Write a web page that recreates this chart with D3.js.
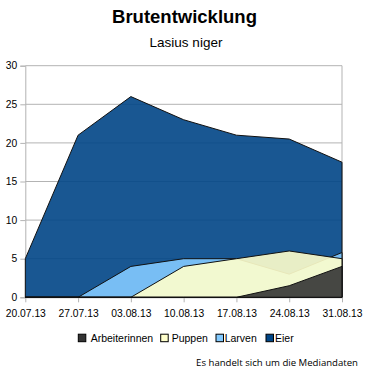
<!DOCTYPE html>
<html>
<head>
<meta charset="utf-8">
<script src="https://cdn.jsdelivr.net/npm/d3@7"></script>
<style>
  html, body { margin: 0; padding: 0; background: #fff; }
  svg { display: block; font-family: "Liberation Sans", Arial, sans-serif; }
</style>
</head>
<body>
<div id="chart"></div>
<script>
// Daten (Mediandaten)
const dates = ['20.07.13', '27.07.13', '03.08.13', '10.08.13', '17.08.13', '24.08.13', '31.08.13'];
const eier = [5, 21, 26, 23, 21, 20.5, 17.5];
const larven = [0, 0, 4, 5, 5, 3, 5.8];
const puppen = [0, 0, 0, 4, 5, 6, 5];
const arbeiterinnen = [0, 0, 0, 0, 0, 1.5, 4];
const yTicks = [0, 5, 10, 15, 20, 25, 30];

// Reihenfolge: hinten -> vorne
const series = [
    { name: 'Eier', values: eier, color: '#004586' },
    { name: 'Larven', values: larven, color: '#83caff' },
    { name: 'Puppen', values: puppen, color: '#ffffcc' },
    { name: 'Arbeiterinnen', values: arbeiterinnen, color: '#333333' }
];
const legendOrder = ['Arbeiterinnen', 'Puppen', 'Larven', 'Eier'];

const width = 369, height = 375;
const plot = { left: 25.3, right: 342, top: 65.7, bottom: 297.3 };

const svg = d3.select('#chart').append('svg')
    .attr('width', width)
    .attr('height', height);

// Titel
svg.append('text')
    .attr('x', width / 2).attr('y', 23)
    .attr('text-anchor', 'middle')
    .style('font-size', '18.5px').style('font-weight', 'bold')
    .text('Brutentwicklung');

svg.append('text')
    .attr('x', 186).attr('y', 47)
    .attr('text-anchor', 'middle')
    .style('font-size', '13.5px')
    .text('Lasius niger');

const x = d3.scalePoint().domain(dates).range([plot.left, plot.right]);
const y = d3.scaleLinear().domain([0, 30]).range([plot.bottom, plot.top]);

// Gitterlinien
svg.append('g')
    .selectAll('line')
    .data(yTicks)
    .join('line')
    .attr('x1', plot.left).attr('x2', plot.right)
    .attr('y1', d => y(d)).attr('y2', d => y(d))
    .attr('stroke', '#b3b3b3').attr('stroke-width', 1);

// rechter Rahmen
svg.append('line')
    .attr('x1', plot.right).attr('x2', plot.right)
    .attr('y1', plot.top).attr('y2', plot.bottom)
    .attr('stroke', '#b3b3b3');

// Y-Achse
const yAxis = svg.append('g')
    .attr('transform', `translate(${plot.left},0)`)
    .call(d3.axisLeft(y).tickValues(yTicks).tickSize(5).tickPadding(3));
yAxis.select('.domain').attr('stroke', '#b3b3b3');
yAxis.selectAll('.tick line').attr('stroke', '#b3b3b3');
yAxis.selectAll('text').style('font-size', '10.3px').attr('fill', '#000')
    .style('font-family', '"Liberation Sans", Arial, sans-serif');

// X-Achse
const xAxis = svg.append('g')
    .attr('transform', `translate(0,${plot.bottom})`)
    .call(d3.axisBottom(x).tickSize(5).tickPadding(7).tickSizeOuter(0));
xAxis.select('.domain').attr('stroke', '#b3b3b3');
xAxis.selectAll('.tick line').attr('stroke', '#b3b3b3');
xAxis.selectAll('text').style('font-size', '10.3px').attr('fill', '#000')
    .style('font-family', '"Liberation Sans", Arial, sans-serif');

// Flächen
const area = d3.area()
    .x((d, i) => x(dates[i]))
    .y0(y(0))
    .y1(d => y(d));

svg.append('g')
    .selectAll('path')
    .data(series)
    .join('path')
    .attr('d', d => area(d.values) + 'Z')
    .attr('fill', d => d.color)
    .attr('fill-opacity', 0.9)
    .attr('stroke', '#111')
    .attr('stroke-width', 1)
    .attr('stroke-linejoin', 'round');

// Legende (Positionen wie im Original)
const legendY = 338;
const swatchX = [78.3, 160.7, 216, 266];
const labelX = [90.7, 171.7, 224.7, 275];
const legend = svg.append('g').style('font-size', '10.5px');
const items = legendOrder.map(n => series.find(s => s.name === n));
const g = legend.selectAll('g').data(items).join('g');
g.append('rect')
    .attr('x', (d, i) => swatchX[i])
    .attr('width', 7.5).attr('height', 7.5)
    .attr('y', legendY - 3.8)
    .attr('fill', d => d.color)
    .attr('stroke', '#000').attr('stroke-width', 1);
g.append('text')
    .attr('x', (d, i) => labelX[i]).attr('y', legendY + 4)
    .text(d => d.name);

// Fußnote
svg.append('text')
    .attr('x', 358).attr('y', 366)
    .attr('text-anchor', 'end')
    .style('font-size', '9.6px')
    .style('font-family', '"Open Sans", "Noto Sans", sans-serif')
    .text('Es handelt sich um die Mediandaten');
</script>
</body>
</html>
